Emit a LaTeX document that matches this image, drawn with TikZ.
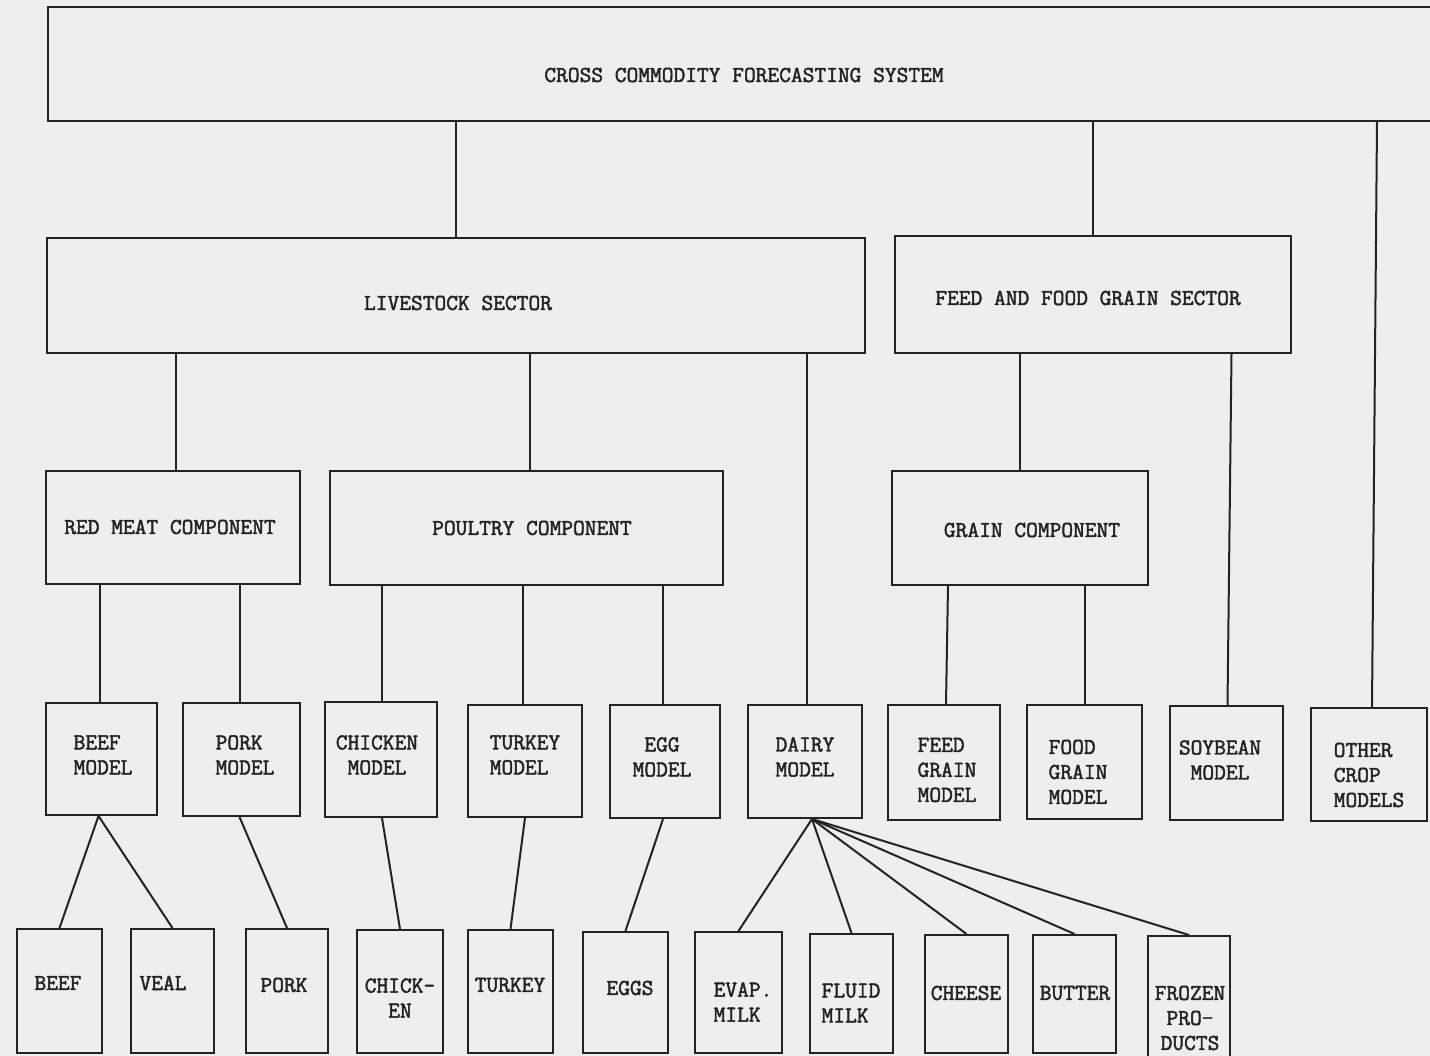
\documentclass[tikz,border=0pt]{standalone}
\usepackage{fontspec}
\newfontfamily\twfont[FakeBold=2]{Latin Modern Mono}
\definecolor{paper}{RGB}{238,238,238}
\definecolor{ink}{RGB}{35,35,35}
\newcommand{\mybox}[5]{%
  \node[boxstyle, minimum width={(#4-#2)*1pt}, minimum height={(#5-#3)*1pt}] (#1) at ({(#2+#4)/2},{(#3+#5)/2}) {};}
\tikzset{
  boxstyle/.style={draw=ink, line width=2pt, inner sep=0pt, rectangle},
  txt/.style={font=\twfont\fontsize{22.8}{25}\selectfont, inner sep=0pt, text=ink},
  conn/.style={draw=ink, line width=2pt},
}
\begin{document}
\begin{tikzpicture}[x=1pt,y=-1pt]
\useasboundingbox (0,0) rectangle (1430,1056);
\fill[paper] (0,0) rectangle (1430,1056);
\clip (0,0) rectangle (1430,1056);
% level 0
\mybox{top}{48}{7}{1450}{121}
\node[txt] (toptx) at (744,75) {CROSS COMMODITY FORECASTING SYSTEM};
% level 1
\mybox{live}{47}{238}{865}{353}
\node[txt] (livetx) at (458,303) {LIVESTOCK SECTOR};
\mybox{feed}{895}{236}{1291}{353}
\node[txt] (feedtx) at (1088,298) {FEED AND FOOD GRAIN SECTOR};
% level 2
\mybox{red}{46}{471}{300}{584}
\node[txt] (redtx) at (170,527) {RED MEAT COMPONENT};
\mybox{poul}{330}{471}{723}{585}
\node[txt] (poultx) at (532,528) {POULTRY COMPONENT};
\mybox{grain}{892}{471}{1148}{585}
\node[txt] (graintx) at (1032,530) {GRAIN COMPONENT};
% level 3 (models)
\mybox{beefm}{46}{703}{157}{815}
\node[txt, align=left] (beefmtx) at (103,755) {BEEF\\MODEL};
\mybox{porkm}{183}{703}{300}{816}
\node[txt, align=left] (porkmtx) at (245,755) {PORK\\MODEL};
\mybox{chickm}{325}{702}{437}{817}
\node[txt, align=center] (chickmtx) at (377,755) {CHICKEN\\MODEL};
\mybox{turkm}{468}{705}{582}{817}
\node[txt, align=left] (turkmtx) at (525,755) {TURKEY\\MODEL};
\mybox{eggm}{610}{705}{720}{818}
\node[txt, align=center] (eggmtx) at (662,757) {EGG\\MODEL};
\mybox{dairym}{748}{705}{862}{818}
\node[txt, align=left] (dairymtx) at (805,757) {DAIRY\\MODEL};
\mybox{feedm}{888}{705}{1000}{820}
\node[txt, align=left] (feedmtx) at (947,770) {FEED\\GRAIN\\MODEL};
\mybox{foodm}{1027}{705}{1142}{819}
\node[txt, align=left] (foodmtx) at (1078,772) {FOOD\\GRAIN\\MODEL};
\mybox{soym}{1170}{706}{1283}{820}
\node[txt, align=center] (soymtx) at (1220,760) {SOYBEAN\\MODEL};
\mybox{otherm}{1311}{708}{1427}{821}
\node[txt, align=left] (othermtx) at (1369,775) {OTHER\\CROP\\MODELS};
% level 4 (products)
\mybox{beefp}{17}{929}{102}{1053}
\node[txt] (beefptx) at (58,983) {BEEF};
\mybox{veal}{131}{929}{214}{1053}
\node[txt] (vealtx) at (163,983) {VEAL};
\mybox{porkp}{246}{929}{328}{1053}
\node[txt] (porkptx) at (284,985) {PORK};
\mybox{chickp}{357}{930}{443}{1053}
\node[txt, align=center] (chickptx) at (400,998) {CHICK-\\EN};
\mybox{turkp}{468}{930}{553}{1053}
\node[txt] (turkptx) at (510,985) {TURKEY};
\mybox{eggs}{583}{932}{668}{1053}
\node[txt] (eggstx) at (630,988) {EGGS};
\mybox{evap}{695}{932}{782}{1053}
\node[txt, align=left] (evaptx) at (743,1002) {EVAP.\\MILK};
\mybox{fluid}{810}{934}{893}{1053}
\node[txt, align=left] (fluidtx) at (851,1003) {FLUID\\MILK};
\mybox{cheese}{925}{935}{1008}{1053}
\node[txt] (cheesetx) at (966,993) {CHEESE};
\mybox{butter}{1033}{935}{1116}{1053}
\node[txt] (buttertx) at (1075,993) {BUTTER};
\mybox{frozen}{1148}{936}{1230}{1062}
\node[txt, align=center] (frozentx) at (1190,1018) {FROZEN\\PRO-\\DUCTS};
% connectors level 0 -> 1
\draw[conn] (live.north |- top.south) -- (live.north);
\draw[conn] (feed.north |- top.south) -- (feed.north);
\draw[conn] ([xshift=8pt]otherm.north |- top.south) -- ([xshift=3pt]otherm.north);
% level 1 -> 2/3
\draw[conn] ([xshift=3pt]red.north |- live.south) -- ([xshift=3pt]red.north);
\draw[conn] ([xshift=3.5pt]poul.north |- live.south) -- ([xshift=3.5pt]poul.north);
\draw[conn] ([xshift=2pt]dairym.north |- live.south) -- ([xshift=2pt]dairym.north);
\draw[conn] (grain.north |- feed.south) -- (grain.north);
\draw[conn] ([xshift=5pt]soym.north |- feed.south) -- ([xshift=1pt]soym.north);
% level 2 -> 3
\draw[conn] ([xshift=-2pt]beefm.north |- red.south) -- ([xshift=-2pt]beefm.north);
\draw[conn] ([xshift=-2pt]porkm.north |- red.south) -- ([xshift=-2pt]porkm.north);
\draw[conn] ([xshift=1pt]chickm.north |- poul.south) -- ([xshift=1pt]chickm.north);
\draw[conn] ([xshift=-2pt]turkm.north |- poul.south) -- ([xshift=-2pt]turkm.north);
\draw[conn] ([xshift=-2pt]eggm.north |- poul.south) -- ([xshift=-2pt]eggm.north);
\draw[conn] ([xshift=4pt]feedm.north |- grain.south) -- ([xshift=2pt]feedm.north);
\draw[conn] (foodm.north |- grain.south) -- (foodm.north);
% level 3 -> 4
\draw[conn] ([xshift=-3pt]beefm.south) -- (beefp.north);
\draw[conn] ([xshift=-3pt]beefm.south) -- (veal.north);
\draw[conn] ([xshift=-2pt]porkm.south) -- (porkp.north);
\draw[conn] ([xshift=1pt]chickm.south) -- (chickp.north);
\draw[conn] (turkm.south) -- (turkp.north);
\draw[conn] ([xshift=-2pt]eggm.south) -- (eggs.north);
\draw[conn] ([xshift=7pt]dairym.south) -- (evap.north);
\draw[conn] ([xshift=7pt]dairym.south) -- (fluid.north);
\draw[conn] ([xshift=7pt]dairym.south) -- (cheese.north);
\draw[conn] ([xshift=7pt]dairym.south) -- (butter.north);
\draw[conn] ([xshift=7pt]dairym.south) -- (frozen.north);
\end{tikzpicture}
\end{document}
